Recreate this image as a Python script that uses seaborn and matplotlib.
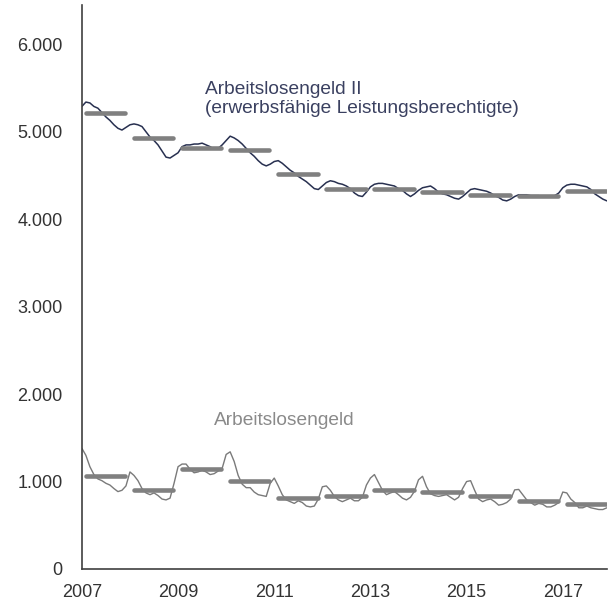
import matplotlib
matplotlib.use("Agg")
import matplotlib.pyplot as plt
from matplotlib.ticker import FuncFormatter
import seaborn as sns
import numpy as np
import pandas as pd

sns.set_style("white")
plt.rcParams['font.family'] = ['Liberation Sans', 'DejaVu Sans']

# monthly values in thousands, Jan 2007 .. Dec 2017
alg2 = [
    5290, 5340, 5330, 5290, 5270, 5220, 5170, 5130, 5080, 5040, 5020, 5050,
    5080, 5090, 5080, 5060, 5000, 4940, 4900, 4850, 4780, 4710, 4700, 4730,
    4760, 4830, 4850, 4850, 4860, 4860, 4870, 4850, 4830, 4800, 4810, 4850,
    4900, 4950, 4930, 4900, 4860, 4810, 4760, 4720, 4670, 4630, 4610, 4630,
    4660, 4670, 4640, 4600, 4560, 4530, 4490, 4460, 4430, 4390, 4350, 4340,
    4380, 4420, 4440, 4430, 4410, 4400, 4380, 4350, 4300, 4270, 4260, 4310,
    4370, 4400, 4410, 4410, 4400, 4390, 4380, 4350, 4330, 4290, 4260, 4290,
    4330, 4360, 4370, 4380, 4350, 4310, 4290, 4280, 4260, 4240, 4230, 4260,
    4300, 4340, 4350, 4340, 4330, 4320, 4300, 4270, 4250, 4220, 4210, 4230,
    4260, 4280, 4280, 4280, 4270, 4270, 4270, 4260, 4260, 4260, 4270, 4300,
    4360, 4390, 4400, 4400, 4390, 4380, 4370, 4340, 4290, 4260, 4230, 4210,
]
alg1 = [
    1380, 1300, 1170, 1080, 1030, 1010, 980, 960, 920, 885, 900, 950,
    1110, 1070, 1010, 920, 870, 850, 870, 840, 800, 790, 810, 980,
    1170, 1200, 1200, 1140, 1100, 1110, 1130, 1110, 1080, 1090, 1120, 1150,
    1310, 1340, 1230, 1070, 970, 930, 930, 880, 850, 840, 830, 980,
    1040, 950, 850, 790, 770, 750, 780, 760, 720, 710, 720, 800,
    940, 950, 900, 830, 790, 770, 790, 810, 780, 780, 820, 960,
    1040, 1080, 990, 900, 850, 870, 885, 850, 810, 790, 820, 890,
    1020, 1060, 940, 860, 840, 830, 840, 850, 820, 790, 820, 920,
    1000, 1010, 900, 800, 770, 790, 800, 770, 730, 740, 760, 800,
    905, 910, 850, 790, 760, 730, 750, 740, 710, 710, 730, 760,
    880, 870, 800, 760, 700, 700, 720, 700, 690, 680, 680, 700,
]

years = list(range(2007, 2018))
alg2_mean = [5210, 4930, 4820, 4790, 4520, 4350, 4350, 4310, 4280, 4270, 4320]
alg1_mean = [1065, 900, 1140, 1010, 810, 830, 905, 885, 835, 780, 745]

label_alg2 = "Arbeitslosengeld II\n(erwerbsfähige Leistungsberechtigte)"
label_alg1 = "Arbeitslosengeld"

navy = "#283050"
grey_line = "#7a7a7a"
grey_bar = "#808080"

t = 2007 + np.arange(len(alg2)) / 12
df = pd.DataFrame({"t": t, "alg2": alg2, "alg1": alg1})

fig = plt.figure(figsize=(6.11, 6.03), dpi=100)
ax = fig.add_axes([0.134, 0.0564, 0.8595, 0.9353])

sns.lineplot(data=df, x="t", y="alg2", ax=ax, color=navy, lw=1.1, zorder=2)
sns.lineplot(data=df, x="t", y="alg1", ax=ax, color=grey_line, lw=1.0, zorder=2)

yr = np.array(years, dtype=float)
for means in (alg2_mean, alg1_mean):
    ax.hlines(means, yr + 0.08, yr + 0.9, color=grey_bar, lw=3.3,
              capstyle="round", zorder=3)

ax.text(2009.55, 5375, label_alg2, color="#3a4060", fontsize=13.8,
        va="center", ha="left", linespacing=1.1)
ax.text(2009.75, 1695, label_alg1, color="#8a8a8a", fontsize=13.8,
        va="center", ha="left")

ax.set_xlim(2007, 2017.92)
ax.set_ylim(0, 6450)
ax.set_xticks([2007, 2009, 2011, 2013, 2015, 2017])
ax.set_yticks(range(0, 7000, 1000))
ax.yaxis.set_major_formatter(FuncFormatter(lambda v, p: f"{v:,.0f}".replace(",", ".")))
ax.set_xlabel("")
ax.set_ylabel("")

ax.tick_params(axis="x", direction="in", length=4, width=1, color="#404040",
               pad=11, labelsize=13, labelcolor="#333333")
ax.tick_params(axis="y", length=0, pad=14, labelsize=13, labelcolor="#333333")

sns.despine(ax=ax)
for s in ("left", "bottom"):
    ax.spines[s].set_color("#404040")
    ax.spines[s].set_linewidth(1.2)

fig.savefig("out.png", dpi=100, facecolor="white")
